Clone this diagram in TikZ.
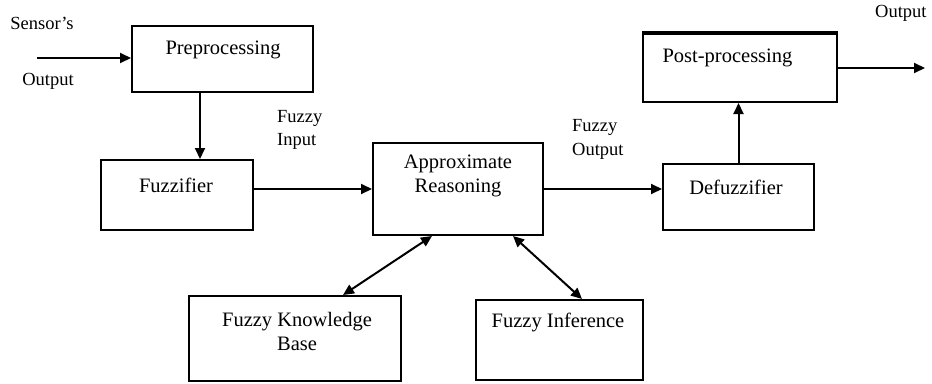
\documentclass[tikz,border=0pt]{standalone}
\usepackage{fontspec}
\setmainfont{Liberation Serif}
\usetikzlibrary{arrows.meta}
\begin{document}
\begin{tikzpicture}[x=1pt,y=-1pt,
  boxnode/.style={draw=black,line width=2pt,inner sep=0pt},
  boxtext/.style={font=\fontsize{20.5}{24}\selectfont,align=center,inner sep=0pt,text=black},
  lbltext/.style={font=\fontsize{18.5}{23.5}\selectfont,align=left,inner sep=0pt,text=black},
  arr/.style={line width=2pt,-{Triangle[length=11pt,width=10pt]}},
  darr/.style={line width=2pt,{Triangle[length=11pt,width=10pt]}-{Triangle[length=11pt,width=10pt]}}]
\useasboundingbox (0,0) rectangle (932,383);
% boxes
\node[boxnode,minimum width=181pt,minimum height=66pt] (pre) at (222.5,59) {};
\node[boxnode,minimum width=152pt,minimum height=70pt] (fuz) at (177,195) {};
\node[boxnode,minimum width=170pt,minimum height=92pt] (app) at (458,189) {};
\node[boxnode,minimum width=151pt,minimum height=66pt] (def) at (738.5,197) {};
\node[boxnode,minimum width=194pt,minimum height=68pt] (post) at (740,68) {};
\node[boxnode,minimum width=212pt,minimum height=85pt] (kb) at (295,338.5) {};
\node[boxnode,minimum width=167pt,minimum height=80pt] (inf) at (559.5,340) {};
\draw[line width=3.2pt] (post.north west) -- (post.north east);
% box texts
\node[boxtext] (pret) at (223,50) {Preprocessing};
\node[boxtext] (fuzt) at (176,185) {Fuzzifier};
\node[boxtext] (appt) at (458,175.5) {Approximate\\Reasoning};
\node[boxtext] (deft) at (736,187) {Defuzzifier};
\node[boxtext] (postt) at (727.5,58) {Post-processing};
\node[boxtext] (kbt) at (297,331.5) {Fuzzy Knowledge\\Base};
\node[boxtext] (inft) at (558,322) {Fuzzy Inference};
% labels
\node[lbltext] (sens) at (42,23) {Sensor’s};
\node[lbltext] (sout) at (48,81) {Output};
\node[lbltext,anchor=west] (fin) at (277,130) {Fuzzy\\Input};
\node[lbltext,anchor=west] (fout) at (572,139.5) {Fuzzy\\Output};
\node[lbltext,anchor=west] (oout) at (875,13) {Output};
% connectors
\coordinate (in) at (37,58);
\coordinate (out) at (925,68);
\draw[arr] (in) -- (in -| pre.west);
\draw[arr] ([xshift=-22.5pt]pre.south) -- ([xshift=-22.5pt]pre.south |- fuz.north);
\draw[arr] (fuz.east |- app.west) -- (app.west);
\draw[arr] (app.east) -- (app.east -| def.west);
\draw[arr] (def.north) -- (def.north |- post.south);
\draw[arr] (post.east) -- (out);
\draw[darr] ([xshift=48pt]kb.north) -- ([xshift=-26pt]app.south);
\draw[darr] ([xshift=55pt]app.south) -- ([xshift=22.5pt]inf.north);
\end{tikzpicture}
\end{document}
